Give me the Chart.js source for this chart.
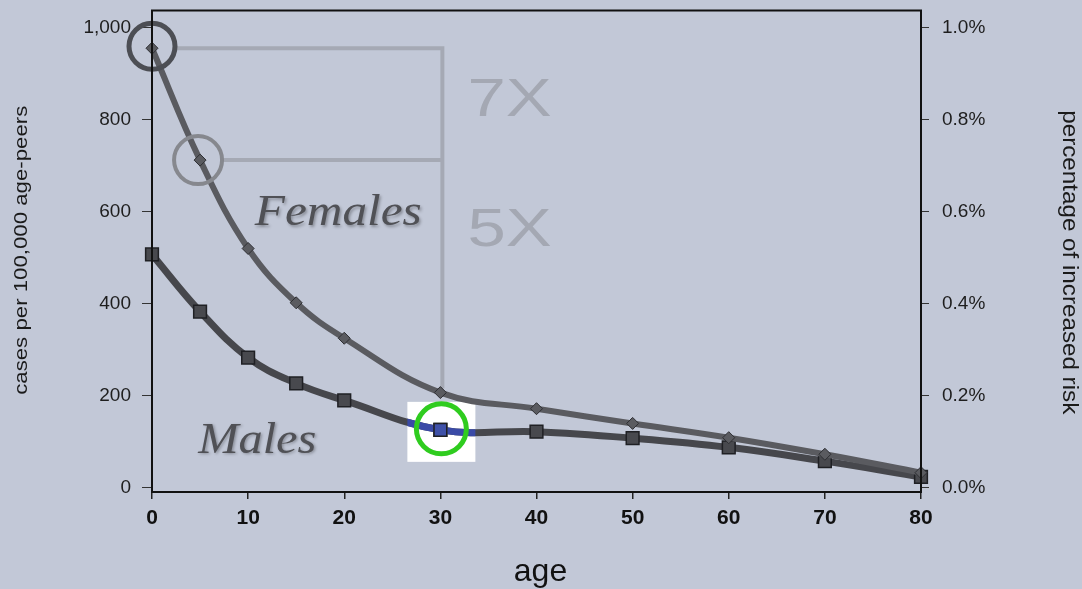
<!DOCTYPE html>
<html>
<head>
<meta charset="utf-8">
<script src="https://cdn.jsdelivr.net/npm/chart.js@4"></script>
<style>
  html, body { margin: 0; padding: 0; background: #c2c8d7; }
  #wrap { width: 1082px; height: 589px; position: relative; }
</style>
</head>
<body>
<div id="wrap"><canvas id="c"></canvas></div>
<script>
// ---- data ----
const ages = [0, 5, 10, 15, 20, 30, 40, 50, 60, 70, 80];
const females = [955, 712, 520, 402, 325, 207, 172, 140, 109, 73, 33];
const males = [507, 383, 283, 227, 190, 126, 122, 108, 88, 58, 24];
const leftTicks = [0, 200, 400, 600, 800, 1000];
const rightTicks = [0, 0.2, 0.4, 0.6, 0.8, 1.0];
const xTicks = [0, 10, 20, 30, 40, 50, 60, 70, 80];
const highlightAge = 30;       // age of highlighted male point
const bracketAges = [0, 5];    // female points circled and compared
const ratioLabels = ['7X', '5X'];
const xTitle = 'age';
const yTitle = 'cases per 100,000 age-peers';
const y2Title = 'percentage of increased risk';

const BG = '#c2c8d7';
const sans = '"Liberation Sans", Arial, Helvetica, sans-serif';

function stretchedText(ctx, text, x, y, sx, rot) {
  ctx.save();
  ctx.translate(x, y);
  if (rot) ctx.rotate(rot);
  ctx.scale(sx, 1);
  ctx.fillText(text, 0, 0);
  ctx.restore();
}

const decor = {
  id: 'decor',
  beforeDatasetsDraw(chart) {
    const {ctx, scales: {x, y}} = chart;
    ctx.save();
    const hi = ages.indexOf(highlightAge);
    const hx = x.getPixelForValue(highlightAge);
    const hy = y.getPixelForValue(males[hi]);
    ctx.fillStyle = '#ffffff';
    ctx.fillRect(hx - 33, hy - 28, 68, 60);
    // bracket lines
    const f0y = y.getPixelForValue(females[ages.indexOf(bracketAges[0])]);
    const f5y = y.getPixelForValue(females[ages.indexOf(bracketAges[1])]);
    const f30y = y.getPixelForValue(females[hi]);
    const x0 = x.getPixelForValue(bracketAges[0]);
    const x5 = x.getPixelForValue(bracketAges[1]);
    const vx = hx + 2;
    ctx.strokeStyle = '#a5a9b4';
    ctx.lineWidth = 4;
    ctx.beginPath();
    ctx.moveTo(x0 + 25, f0y); ctx.lineTo(vx + 2, f0y);
    ctx.moveTo(x5 + 22, f5y); ctx.lineTo(vx + 2, f5y);
    ctx.moveTo(vx, f0y - 2); ctx.lineTo(vx, f30y - 4);
    ctx.stroke();
    // ratio labels
    ctx.fillStyle = '#a4a8b3';
    ctx.font = '53px ' + sans;
    ctx.textBaseline = 'alphabetic';
    ctx.textAlign = 'left';
    stretchedText(ctx, ratioLabels[0], hx + 27, f0y + 68, 1.3);
    stretchedText(ctx, ratioLabels[1], hx + 27, f5y + 86, 1.3);
    // Females / Males labels
    ctx.shadowColor = 'rgba(0,0,0,0.3)';
    ctx.shadowBlur = 3;
    ctx.shadowOffsetX = 1.5;
    ctx.shadowOffsetY = 1.5;
    ctx.fillStyle = '#505156';
    ctx.font = 'italic 44px "Liberation Serif", "Times New Roman", serif';
    stretchedText(ctx, 'Females', x.getPixelForValue(10.7), y.getPixelForValue(570), 1.12);
    stretchedText(ctx, 'Males', x.getPixelForValue(4.8), y.getPixelForValue(76), 1.1);
    ctx.restore();
  },
  afterDatasetsDraw(chart) {
    const {ctx, chartArea: a, scales: {x, y}} = chart;
    ctx.save();
    const hi = ages.indexOf(highlightAge);
    const hx = x.getPixelForValue(highlightAge);
    const hy = y.getPixelForValue(males[hi]);
    const meta = chart.getDatasetMeta(1);
    // blue segment of male line inside white box
    ctx.save();
    ctx.beginPath();
    ctx.rect(hx - 33, hy - 28, 68, 60);
    ctx.clip();
    const line = meta.dataset;
    const oldC = line.options.borderColor;
    line.options.borderColor = '#3a4aa6';
    line.draw(ctx, a);
    line.options.borderColor = oldC;
    const pt = meta.data[hi];
    const oldB = pt.options.backgroundColor;
    pt.options.backgroundColor = '#3f51a8';
    pt.draw(ctx, a);
    pt.options.backgroundColor = oldB;
    ctx.restore();
    // green ring
    ctx.strokeStyle = '#2fcc1f';
    ctx.lineWidth = 5;
    ctx.beginPath();
    ctx.arc(hx + 1, hy - 1, 25, 0, Math.PI * 2);
    ctx.stroke();
    // circles on females
    const c0x = x.getPixelForValue(bracketAges[0]);
    const c0y = y.getPixelForValue(females[ages.indexOf(bracketAges[0])]);
    ctx.strokeStyle = '#4c4e54';
    ctx.lineWidth = 5;
    ctx.beginPath();
    ctx.arc(c0x, c0y - 2, 23, 0, Math.PI * 2);
    ctx.stroke();
    const c1x = x.getPixelForValue(bracketAges[1]);
    const c1y = y.getPixelForValue(females[ages.indexOf(bracketAges[1])]);
    ctx.strokeStyle = '#86888e';
    ctx.lineWidth = 4;
    ctx.beginPath();
    ctx.arc(c1x - 2, c1y, 24, 0, Math.PI * 2);
    ctx.stroke();
    // frame
    ctx.strokeStyle = '#111';
    ctx.lineWidth = 2;
    ctx.strokeRect(a.left, a.top, a.right - a.left, a.bottom - a.top);
    ctx.restore();
  },
  afterDraw(chart) {
    const {ctx, chartArea: a} = chart;
    ctx.save();
    ctx.fillStyle = '#1a1a1a';
    ctx.textAlign = 'center';
    ctx.textBaseline = 'middle';
    ctx.font = '19px ' + sans;
    stretchedText(ctx, yTitle, 22, (a.top + a.bottom) / 2 - 1, 1.17, -Math.PI / 2);
    ctx.font = '22px ' + sans;
    stretchedText(ctx, y2Title, 1069, (a.top + a.bottom) / 2 + 11, 1.1, Math.PI / 2);
    ctx.fillStyle = '#111';
    ctx.font = '32px ' + sans;
    ctx.fillText(xTitle, (a.left + a.right) / 2 + 4, 572);
    ctx.restore();
  }
};

const bgPlugin = {
  id: 'bg',
  beforeDraw(chart) {
    const {ctx, width, height} = chart;
    ctx.save();
    ctx.fillStyle = BG;
    ctx.fillRect(0, 0, width, height);
    ctx.restore();
  }
};

new Chart(document.getElementById('c'), {
  type: 'line',
  data: {
    datasets: [
      {
        label: 'Females',
        data: ages.map((a, i) => ({x: a, y: females[i]})),
        borderColor: '#5a5b60',
        borderWidth: 6,
        pointStyle: 'rectRot',
        pointRadius: 6,
        pointBackgroundColor: '#5a5b60',
        pointBorderColor: '#2e2f33',
        pointBorderWidth: 1,
        tension: 0.4,
        clip: false,
        yAxisID: 'y'
      },
      {
        label: 'Males',
        data: ages.map((a, i) => ({x: a, y: males[i]})),
        borderColor: '#46474c',
        borderWidth: 7,
        pointStyle: 'rect',
        pointRadius: 9,
        pointBackgroundColor: '#48494e',
        pointBorderColor: '#1f2024',
        pointBorderWidth: 1.5,
        tension: 0.4,
        clip: false,
        yAxisID: 'y'
      }
    ]
  },
  options: {
    responsive: true,
    maintainAspectRatio: false,
    animation: false,
    layout: { padding: { top: 10, left: 0, right: 0, bottom: 0 } },
    plugins: { legend: { display: false }, tooltip: { enabled: false } },
    scales: {
      x: {
        type: 'linear',
        min: 0, max: 80,
        afterBuildTicks(s) { s.ticks = xTicks.map(v => ({value: v})); },
        afterFit(s) { s.height = 97; s.paddingLeft = 0; s.paddingRight = 0; },
        grid: { drawOnChartArea: false, tickLength: 7, color: '#222', lineWidth: 1.5 },
        border: { display: false },
        ticks: { color: '#111', font: { family: sans, size: 21, weight: 'bold' }, padding: 7, maxRotation: 0 },
        title: { display: false }
      },
      y: {
        position: 'left',
        min: -9, max: 1037,
        afterBuildTicks(s) { s.ticks = leftTicks.map(v => ({value: v})); },
        afterFit(s) { s.width = 152; s.paddingTop = 0; s.paddingBottom = 0; },
        grid: { drawOnChartArea: false, tickLength: 10, color: '#333', lineWidth: 1 },
        border: { display: false },
        ticks: {
          color: '#1e1e1e', font: { family: sans, size: 19 }, padding: 11,
          callback: v => v.toLocaleString('en-US')
        },
        title: { display: false }
      },
      y2: {
        position: 'right',
        min: -0.009, max: 1.037,
        afterBuildTicks(s) { s.ticks = rightTicks.map(v => ({value: v})); },
        afterFit(s) { s.width = 161; s.paddingTop = 0; s.paddingBottom = 0; },
        grid: { drawOnChartArea: false, tickLength: 8, color: '#333', lineWidth: 1 },
        border: { display: false },
        ticks: {
          color: '#1e1e1e', font: { family: sans, size: 19 }, padding: 13,
          callback: v => v.toFixed(1) + '%'
        },
        title: { display: false }
      }
    }
  },
  plugins: [bgPlugin, decor]
});
</script>
</body>
</html>
